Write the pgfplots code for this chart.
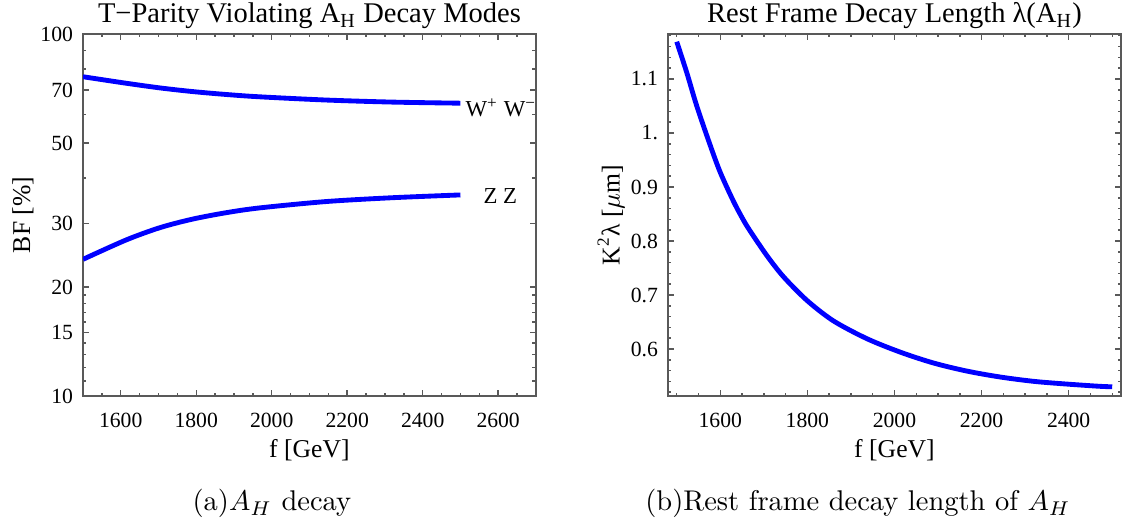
\documentclass[border=0pt]{standalone}
\usepackage{pgfplots}
\usepackage{pgfplotstable}
\pgfplotsset{compat=1.18}
\usepackage{fontspec}
\newfontfamily\tnr{Liberation Serif}
\definecolor{frame}{gray}{0.35}
\definecolor{curve}{rgb}{0,0,1}

\pgfplotstableread{
f bf
1500 76.2
1615 73.1
1705 70.95
1790 69.35
1880 68.05
1970 67.05
2145 65.7
2320 64.85
2500 64.4
}\ww

\pgfplotstableread{
f bf
1500 23.85
1615 27.0
1705 29.2
1790 30.8
1880 32.1
1970 33.1
2145 34.45
2320 35.3
2500 35.93
}\zz

\pgfplotstableread{
f lam
1500 1.169
1523 1.112
1546 1.050
1577 0.977
1600 0.927
1630 0.874
1653 0.839
1669 0.818
1707 0.773
1745 0.734
1799 0.690
1860 0.652
1937 0.619
2014 0.594
2090 0.574
2167 0.559
2244 0.548
2321 0.540
2397 0.535
2470 0.531
2500 0.530
}\lam

\begin{document}
\begin{tikzpicture}
\path[use as bounding box] (0,0) rectangle (394pt,182.44pt);
\pgfplotsset{
  every axis title shift=0pt,
  mystyle/.style={
    scale only axis, width=158.9pt, height=127pt,
    axis line style={frame, line width=0.6pt},
    every tick/.style={frame, line width=0.5pt},
    major tick length=2pt, minor tick length=1.2pt,
    tick align=inside,
    tick label style={font=\tnr\fontsize{7.6}{9}\selectfont},
    xticklabel style={yshift=-2.4pt},
    label style={font=\tnr\fontsize{9}{11}\selectfont},
    title style={font=\tnr\fontsize{10}{12}\selectfont, at={(axis description cs:0.5,1.0304)}, anchor=base},
    xlabel style={at={(axis description cs:0.5,-0.1492)}, anchor=center},
  },
}
% left panel
\begin{axis}[mystyle,
  at={(29.12pt,43.51pt)}, anchor=south west,
  ymode=log, ymin=10, ymax=100, xmin=1500, xmax=2700,
  xtick={1600,1800,2000,2200,2400,2600},
  xticklabels={1600,1800,2000,2200,2400,2600},
  minor xtick={1500,1550,...,2700},
  ytick={10,15,20,30,50,70,100},
  yticklabels={10,15,20,30,50,70,100},
  minor ytick={11,12,13,14,16,17,18,19,40,60,80,90},
  title={T−Parity Violating A\textsubscript{H} Decay Modes},
  xlabel={f [GeV]},
  ylabel={BF [\%]},
  ylabel style={at={(axis description cs:-0.1325,0.5)}, anchor=center},
]
\addplot[curve, line width=1.7pt, smooth] table[x=f,y=bf] {\ww};
\addplot[curve, line width=1.7pt, smooth] table[x=f,y=bf] {\zz};
\node[anchor=base west, inner sep=0pt, font=\tnr\fontsize{8}{10}\selectfont] at (axis cs:2512,59.1) {W\textsuperscript{+} W\textsuperscript{−}};
\node[anchor=base west, inner sep=0pt, font=\tnr\fontsize{8}{10}\selectfont] at (axis cs:2560,34.1) {Z Z};
\end{axis}
% right panel
\begin{axis}[mystyle,
  at={(234.37pt,43.51pt)}, anchor=south west,
  xmin=1480, xmax=2520, ymin=0.513, ymax=1.1833,
  xtick={1600,1800,2000,2200,2400},
  xticklabels={1600,1800,2000,2200,2400},
  minor xtick={1500,1550,...,2500},
  ytick={0.6,0.7,0.8,0.9,1.0,1.1},
  yticklabels={0.6,0.7,0.8,0.9,1.,1.1},
  minor ytick={0.52,0.54,...,1.18},
  title={Rest Frame Decay Length λ(A\textsubscript{H})},
  xlabel={f [GeV]},
  ylabel={K\textsuperscript{2}λ [$\mu$m]},
  ylabel style={at={(axis description cs:-0.1258,0.5)}, anchor=center},
]
\addplot[curve, line width=1.7pt, smooth] table[x=f,y=lam] {\lam};
\end{axis}
\node[anchor=base] at (95.4pt,3.16pt) {(a)$A_H$ decay};
\node[anchor=base] at (301.0pt,3.16pt) {(b)Rest frame decay length of $A_H$};
\end{tikzpicture}
\end{document}
